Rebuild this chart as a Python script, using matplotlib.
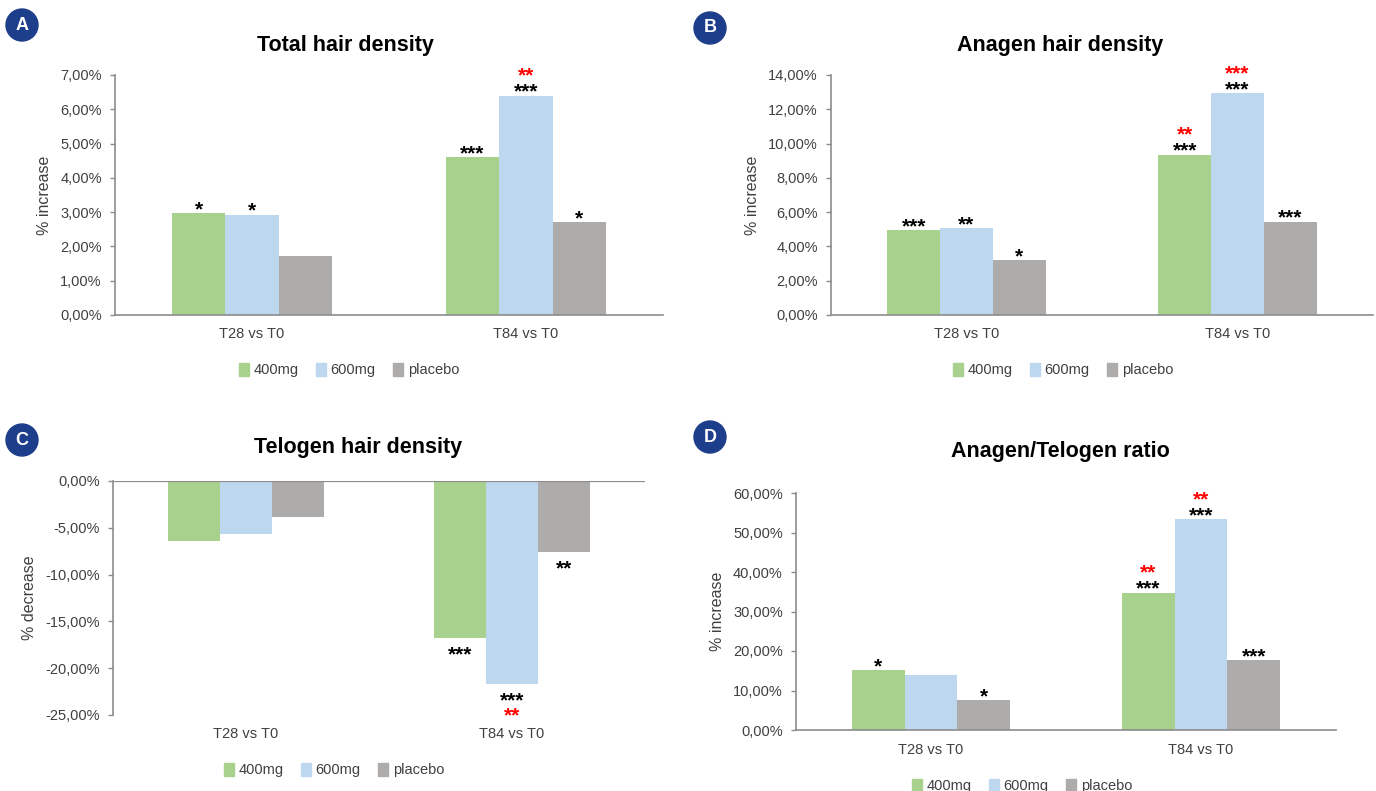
import matplotlib
matplotlib.use("Agg")
import matplotlib.pyplot as plt
from matplotlib.patches import Circle, Patch
import numpy as np

plt.rcParams['font.family'] = ['Liberation Sans', 'DejaVu Sans']

W, H = 1376, 791

groups = ["T28 vs T0", "T84 vs T0"]
series = ["400mg", "600mg", "placebo"]
colors = ["#a9d18e", "#bdd7ee", "#aeabab"]

# values per series: [T28, T84]
total_400 = [2.97, 4.60]
total_600 = [2.93, 6.40]
total_pla = [1.72, 2.70]

anagen_400 = [4.95, 9.35]
anagen_600 = [5.05, 12.95]
anagen_pla = [3.20, 5.45]

telogen_400 = [-6.40, -16.80]
telogen_600 = [-5.70, -21.70]
telogen_pla = [-3.80, -7.60]

ratio_400 = [15.2, 34.8]
ratio_600 = [13.9, 53.3]
ratio_pla = [7.5, 17.7]

# significance marks, rows = groups, cols = series
stars_A = [["*", "*", ""], ["***", "***", "*"]]
red_A = [["", "", ""], ["", "**", ""]]
stars_B = [["***", "**", "*"], ["***", "***", "***"]]
red_B = [["", "", ""], ["**", "***", ""]]
stars_C = [["", "", ""], ["***", "***", "**"]]
red_C = [["", "", ""], ["", "**", ""]]
stars_D = [["*", "", "*"], ["***", "***", "***"]]
red_D = [["", "", ""], ["**", "**", ""]]

fig = plt.figure(figsize=(W / 100, H / 100), dpi=100)


def px_axes(l, t, r, b):
    return fig.add_axes([l / W, 1 - b / H, (r - l) / W, (b - t) / H])


def pct(v):
    return f"{v:.2f}%".replace(".", ",")


def mark(ax, txt, x, y, dy, color="black"):
    ax.annotate(txt, (x, y), xytext=(0, dy), textcoords="offset points",
                ha="center", va="baseline", fontsize=15, fontweight="bold", color=color)


def panel(box, vals, ylim, step, ylabel, title, title_xy, badge, badge_xy,
          stars, reds, legend_xy, negative=False):
    ax = px_axes(*box)
    x = np.arange(len(groups))
    w = 0.195
    for i, (v, c) in enumerate(zip(vals, colors)):
        xs = x + (i - 1) * w
        ax.bar(xs, v, width=w, color=c, label=series[i])
        for g in range(len(groups)):
            s, r = stars[g][i], reds[g][i]
            if negative:
                if s:
                    mark(ax, s, xs[g], v[g], -16)
                if r:
                    mark(ax, r, xs[g], v[g], -26.5, "red")
            else:
                if s:
                    mark(ax, s, xs[g], v[g], -1.5)
                if r:
                    mark(ax, r, xs[g], v[g], 10, "red")
    ax.set_xlim(-0.5, 1.5)
    ax.set_ylim(*ylim)
    ticks = np.arange(ylim[0], ylim[1] + step / 2, step)
    ax.set_yticks(ticks)
    ax.set_yticklabels([pct(t) for t in ticks])
    ax.set_xticks(x)
    ax.set_xticklabels(groups)
    ax.tick_params(labelsize=10.5, colors="#404040")
    ax.tick_params(axis="x", length=0, pad=9)
    ax.tick_params(axis="y", length=3.5, width=1, color="#8c8c8c", pad=6)
    for sp in ["top", "right"]:
        ax.spines[sp].set_visible(False)
    for sp in ["left", "bottom"]:
        ax.spines[sp].set_color("#8c8c8c")
        ax.spines[sp].set_linewidth(1.2)
    if negative:
        ax.spines["bottom"].set_visible(False)
        ax.axhline(0, color="#8c8c8c", lw=1.6)
    ax.set_ylabel(ylabel, fontsize=11.5, color="#404040", labelpad=6)
    fig.text(title_xy[0] / W, 1 - title_xy[1] / H, title, ha="center", va="center",
             fontsize=15.5, fontweight="bold")
    bx, by = badge_xy
    fig.add_artist(Circle((bx / 100, (H - by) / 100), 0.16, transform=fig.dpi_scale_trans,
                          color="#1d3e8a"))
    fig.text(bx / W, 1 - by / H, badge, ha="center", va="center", color="white",
             fontsize=13, fontweight="bold")
    handles = [Patch(color=c, label=s) for c, s in zip(colors, series)]
    fig.legend(handles=handles, loc="center", bbox_to_anchor=(legend_xy[0] / W, 1 - legend_xy[1] / H),
               ncol=3, frameon=False, fontsize=10.5, handlelength=0.7, handleheight=1.0,
               handletextpad=0.3, columnspacing=1.2, labelcolor="#404040")
    return ax


panel((115, 75, 663, 315), [total_400, total_600, total_pla], (0, 7), 1,
      "% increase", "Total hair density", (345, 45), "A", (22, 25),
      stars_A, red_A, (349, 370))
panel((831, 75, 1373, 315), [anagen_400, anagen_600, anagen_pla], (0, 14), 2,
      "% increase", "Anagen hair density", (1060, 45), "B", (710, 28),
      stars_B, red_B, (1063, 370))
panel((113, 481, 645, 715), [telogen_400, telogen_600, telogen_pla], (-25, 0), 5,
      "% decrease", "Telogen hair density", (358, 447), "C", (22, 440),
      stars_C, red_C, (334, 770), negative=True)
panel((796, 493, 1336, 730), [ratio_400, ratio_600, ratio_pla], (0, 60), 10,
      "% increase", "Anagen/Telogen ratio", (1060, 452), "D", (710, 437),
      stars_D, red_D, (1022, 786))

fig.savefig("out.png", dpi=100)
